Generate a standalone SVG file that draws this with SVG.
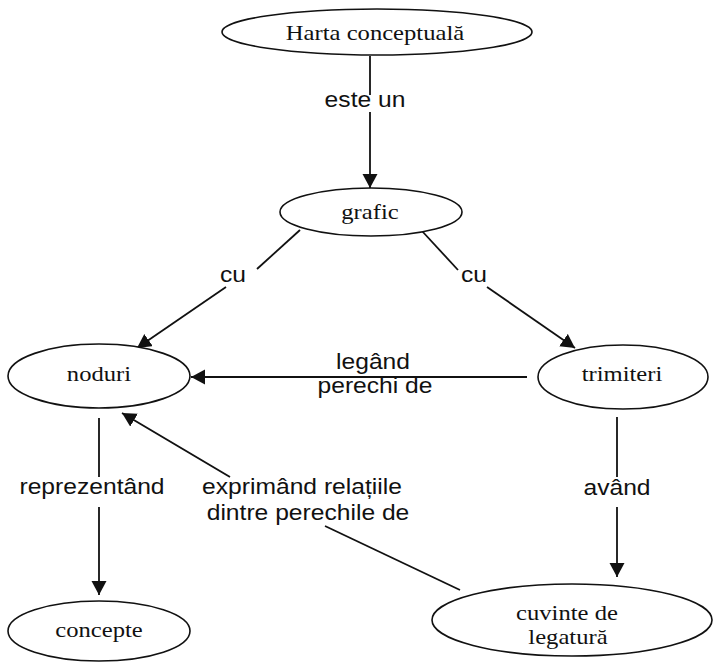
<svg xmlns="http://www.w3.org/2000/svg" width="715" height="662" viewBox="0 0 715 662">
  <style>
    .node ellipse { fill: #ffffff; stroke: #111111; stroke-width: 1.6; }
    .node text { font-family: "Liberation Serif", "Times New Roman", serif; font-size: 22px; fill: #111111; text-anchor: middle; }
    .edge line { stroke: #111111; stroke-width: 1.8; }
    .label { font-family: "Liberation Sans", Arial, sans-serif; font-size: 22px; fill: #111111; text-anchor: middle; }
  </style>
  <defs>
    <marker id="arrow" markerUnits="userSpaceOnUse" markerWidth="16" markerHeight="16" refX="14" refY="7.5" orient="auto">
      <path d="M0,0 L14,7.5 L0,15 z" fill="#111111"/>
    </marker>
  </defs>
  <rect width="715" height="662" fill="#ffffff"/>

  <g id="connectors" class="edge">
    <!-- Harta conceptuala -> grafic -->
    <line x1="370" y1="56" x2="370" y2="95"/>
    <line x1="370" y1="112" x2="370" y2="188" marker-end="url(#arrow)"/>
    <!-- grafic -> noduri -->
    <line x1="300" y1="230" x2="257" y2="269"/>
    <line x1="226" y1="287" x2="137" y2="348" marker-end="url(#arrow)"/>
    <!-- grafic -> trimiteri -->
    <line x1="422" y1="231" x2="458" y2="270"/>
    <line x1="487" y1="287" x2="575" y2="348" marker-end="url(#arrow)"/>
    <!-- trimiteri -> noduri -->
    <line x1="527" y1="377" x2="191" y2="377" marker-end="url(#arrow)"/>
    <!-- noduri -> concepte -->
    <line x1="99" y1="418" x2="99" y2="477"/>
    <line x1="99" y1="507" x2="99" y2="595" marker-end="url(#arrow)"/>
    <!-- trimiteri -> cuvinte de legatura -->
    <line x1="617" y1="417" x2="617" y2="477"/>
    <line x1="617" y1="507" x2="617" y2="577" marker-end="url(#arrow)"/>
    <!-- cuvinte de legatura -> noduri -->
    <line x1="460" y1="590" x2="325" y2="526"/>
    <line x1="230" y1="477" x2="122" y2="413" marker-end="url(#arrow)"/>

    <text class="label" transform="translate(365 107) scale(1.12 1)">este un</text>
    <text class="label" transform="translate(233 282) scale(1.12 1)">cu</text>
    <text class="label" transform="translate(474 282) scale(1.12 1)">cu</text>
    <text class="label" transform="translate(373 369) scale(1.12 1)">legând</text>
    <text class="label" transform="translate(375 393) scale(1.12 1)">perechi de</text>
    <text class="label" transform="translate(92 494) scale(1.12 1)">reprezentând</text>
    <text class="label" transform="translate(302 494) scale(1.12 1)">exprimând relațiile</text>
    <text class="label" transform="translate(308 520) scale(1.12 1)">dintre perechile de</text>
    <text class="label" transform="translate(617 495) scale(1.12 1)">având</text>
  </g>

  <g id="harta" class="node">
    <ellipse cx="377" cy="32" rx="155" ry="23"/>
    <text transform="translate(375 40) scale(1.12 1)">Harta conceptuală</text>
  </g>
  <g id="grafic" class="node">
    <ellipse cx="371" cy="212" rx="91" ry="24"/>
    <text transform="translate(370 219) scale(1.12 1)">grafic</text>
  </g>
  <g id="noduri" class="node">
    <ellipse cx="99" cy="376" rx="91" ry="32"/>
    <text transform="translate(99 381) scale(1.12 1)">noduri</text>
  </g>
  <g id="trimiteri" class="node">
    <ellipse cx="623" cy="377" rx="85" ry="32"/>
    <text transform="translate(622 381) scale(1.12 1)">trimiteri</text>
  </g>
  <g id="concepte" class="node">
    <ellipse cx="99" cy="631" rx="91" ry="30"/>
    <text transform="translate(99 637) scale(1.12 1)">concepte</text>
  </g>
  <g id="cuvinte" class="node">
    <ellipse cx="572" cy="620" rx="140" ry="36"/>
    <text transform="translate(567 620) scale(1.12 1)">cuvinte de</text>
    <text transform="translate(568 644) scale(1.12 1)">legatură</text>
  </g>
</svg>
